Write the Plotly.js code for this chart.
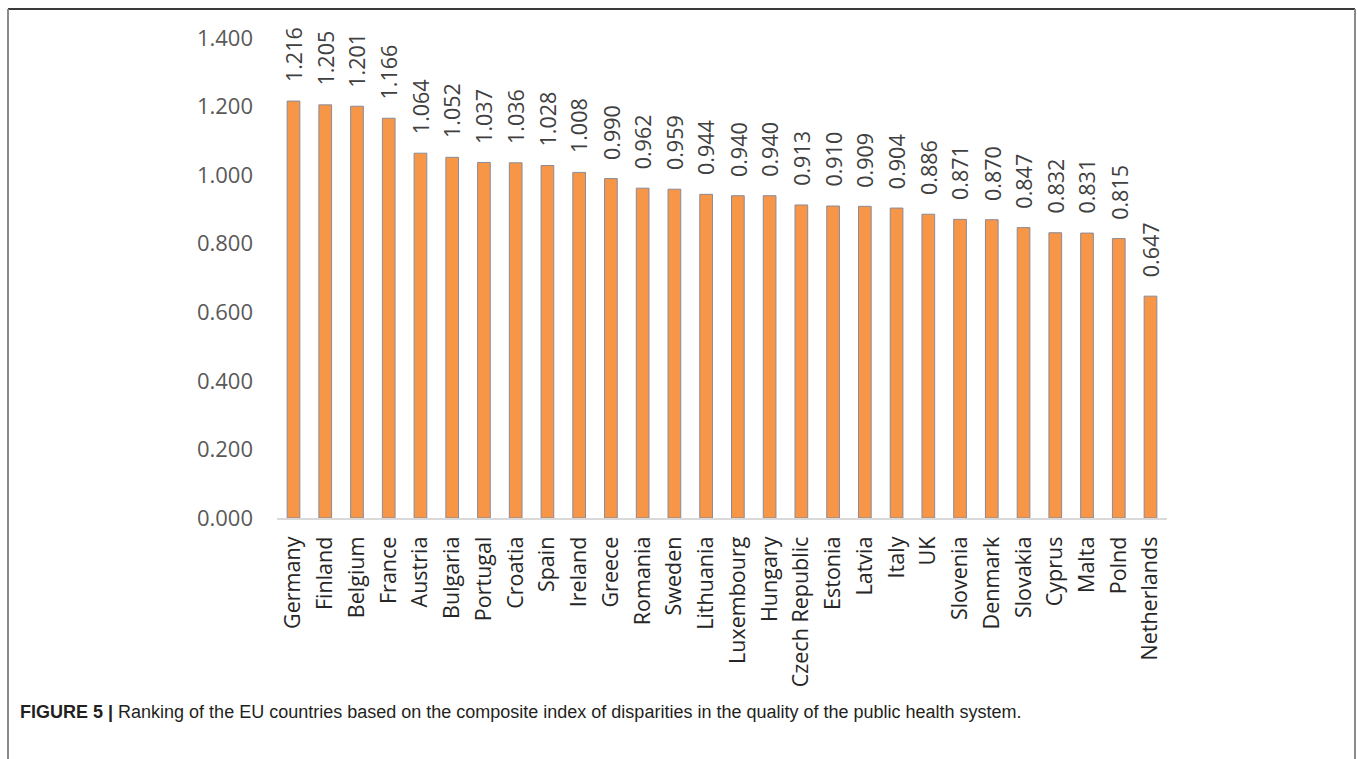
<!DOCTYPE html>
<html>
<head>
<meta charset="utf-8">
<script src="https://cdn.plot.ly/plotly-3.0.1.min.js"></script>
<style>html,body{margin:0;padding:0;background:#fff;}#chart{width:1357px;height:759px;}</style>
</head>
<body>
<div id="chart"></div>
<script>
const countries = ["Germany","Finland","Belgium","France","Austria","Bulgaria","Portugal","Croatia","Spain","Ireland","Greece","Romania","Sweden","Lithuania","Luxembourg","Hungary","Czech Republic","Estonia","Latvia","Italy","UK","Slovenia","Denmark","Slovakia","Cyprus","Malta","Polnd","Netherlands"];
const values = [1.216,1.205,1.201,1.166,1.064,1.052,1.037,1.036,1.028,1.008,0.990,0.962,0.959,0.944,0.940,0.940,0.913,0.910,0.909,0.904,0.886,0.871,0.870,0.847,0.832,0.831,0.815,0.647];
const yTicks = [0,0.2,0.4,0.6,0.8,1.0,1.2,1.4];
const captionBold = "FIGURE 5 |";
const captionText = " Ranking of the EU countries based on the composite index of disparities in the quality of the public health system.";

const W = 1357, H = 759;
const px = v => v / W, py = v => 1 - v / H;

const trace = {
  type: 'bar',
  x: countries,
  y: values,
  cliponaxis: false,
  marker: {color: '#F79646', line: {color: '#8a8a9a', width: 1}},
  hoverinfo: 'none'
};

const valueLabels = countries.map((c, i) => ({
  x: c, y: values[i], xref: 'x', yref: 'y',
  text: values[i].toFixed(3), textangle: -90,
  xanchor: 'center', yanchor: 'bottom', yshift: 17,
  showarrow: false,
  font: {family: 'Open Sans, sans-serif', size: 21.5, color: '#404040'}
}));

const layout = {
  width: W, height: H,
  margin: {l: 0, r: 0, t: 0, b: 0},
  paper_bgcolor: '#fff', plot_bgcolor: '#fff',
  showlegend: false,
  bargap: 0.6,
  xaxis: {
    domain: [px(277), px(1167)],
    showline: true, linecolor: '#d9d9d9', linewidth: 2,
    showgrid: false, ticks: '', tickangle: -90,
    tickfont: {family: 'Open Sans, sans-serif', size: 21.5, color: '#262626'},
    ticklabelstandoff: 8,
    automargin: false
  },
  yaxis: {
    domain: [py(518), py(38)],
    range: [0, 1.4],
    tickvals: yTicks,
    ticktext: yTicks.map(v => v.toFixed(3)),
    showgrid: false, zeroline: false, showline: false, ticks: '',
    tickfont: {family: 'Open Sans, sans-serif', size: 22, color: '#595959'},
    ticklabelstandoff: 23,
    automargin: false
  },
  shapes: [
    {type: 'line', xref: 'paper', yref: 'paper', x0: px(8), x1: px(1355), y0: py(9), y1: py(9), line: {color: '#3a3a3a', width: 2}},
    {type: 'line', xref: 'paper', yref: 'paper', x0: px(8), x1: px(8), y0: py(9), y1: -0.02, line: {color: '#8a8a8a', width: 2}},
    {type: 'line', xref: 'paper', yref: 'paper', x0: px(1355), x1: px(1355), y0: py(9), y1: -0.02, line: {color: '#8a8a8a', width: 2}}
  ],
  annotations: valueLabels.concat([
    {xref: 'paper', yref: 'paper', x: px(18), y: py(712), xanchor: 'left', yanchor: 'middle', showarrow: false,
     text: '<b>' + captionBold + '</b>' + captionText,
     font: {family: 'Liberation Sans, Arial, sans-serif', size: 18, color: '#231f20'}}
  ])
};

Plotly.newPlot('chart', [trace], layout, {staticPlot: true, displayModeBar: false});
</script>
</body>
</html>
